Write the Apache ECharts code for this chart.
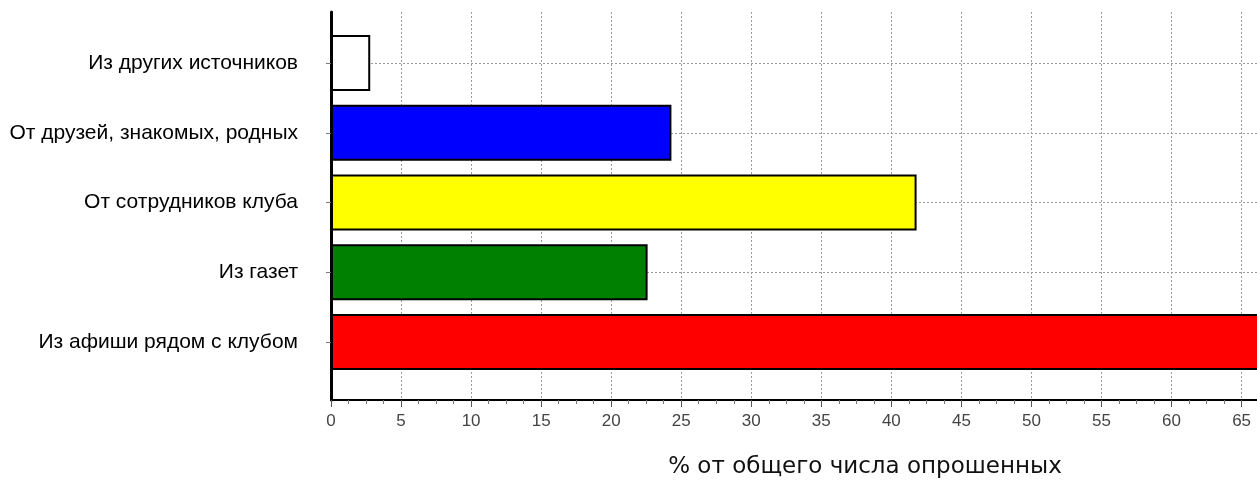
<!DOCTYPE html>
<html>
<head>
<meta charset="utf-8">
<script src="https://cdn.jsdelivr.net/npm/echarts@6/dist/echarts.min.js"></script>
<style>
html,body{margin:0;padding:0;background:#fff;}
#chart{width:1257px;height:481px;}
</style>
</head>
<body>
<div id="chart"></div>
<script>
const categories = ['Из афиши рядом с клубом', 'Из газет', 'От сотрудников клуба', 'От друзей, знакомых, родных', 'Из других источников'];
const values = [66.5, 22.6, 41.8, 24.3, 2.8];
const barColors = ['#ff0000', '#008000', '#ffff00', '#0000ff', '#ffffff'];
const xAxisTitle = '% от общего числа опрошенных';
const xMin = 0, xMax = 66.1, xStep = 5;

const chart = echarts.init(document.getElementById('chart'), null, {renderer: 'canvas'});
const dotted = {type: [2, 2], color: '#9a9a9a', width: 1};
chart.setOption({
  animation: false,
  backgroundColor: '#fff',
  title: {
    text: xAxisTitle,
    left: 865, top: 456, textAlign: 'center', padding: 0,
    textStyle: {fontFamily: 'DejaVu Sans, sans-serif', fontSize: 23, fontWeight: 'normal', color: '#111'}
  },
  grid: [
    {left: 331, right: 0, top: 63, bottom: 139},
    {left: 331, right: 0, top: 12, bottom: 81}
  ],
  xAxis: [
    {gridIndex: 0, type: 'value', min: xMin, max: xMax, show: false},
    {gridIndex: 1, type: 'value', min: xMin, max: xMax, interval: xStep,
     axisLine: {show: true, lineStyle: {color: '#000', width: 2}},
     axisTick: {show: true, length: 7, lineStyle: {color: '#555'}},
     minorTick: {show: true, splitNumber: 4, length: 4, lineStyle: {color: '#777'}},
     axisLabel: {fontFamily: 'Liberation Sans, Arial, sans-serif', fontSize: 17, color: '#444', margin: 13, showMaxLabel: false,
       formatter: v => (Math.abs(v % xStep) < 1e-9 ? String(v) : '')},
     splitLine: {show: true, lineStyle: dotted}}
  ],
  yAxis: [
    {gridIndex: 0, type: 'category', data: categories, boundaryGap: false,
     axisLine: {show: false},
     axisTick: {show: true, length: 5, lineStyle: {color: '#777'}},
     axisLabel: {fontFamily: 'Liberation Sans, Arial, sans-serif', fontSize: 21, color: '#000', margin: 33},
     splitLine: {show: true, lineStyle: dotted}},
    {gridIndex: 1, type: 'value', min: 0, max: 1,
     axisLine: {show: true, lineStyle: {color: '#000', width: 3}},
     axisTick: {show: false}, axisLabel: {show: false}, splitLine: {show: false}}
  ],
  series: [{
    type: 'bar', xAxisIndex: 0, yAxisIndex: 0, barWidth: 56, clip: false,
    data: values.map((v, i) => ({value: v, itemStyle: {color: barColors[i]}})),
    itemStyle: {borderColor: '#000', borderWidth: 2}
  }]
});
</script>
</body>
</html>
